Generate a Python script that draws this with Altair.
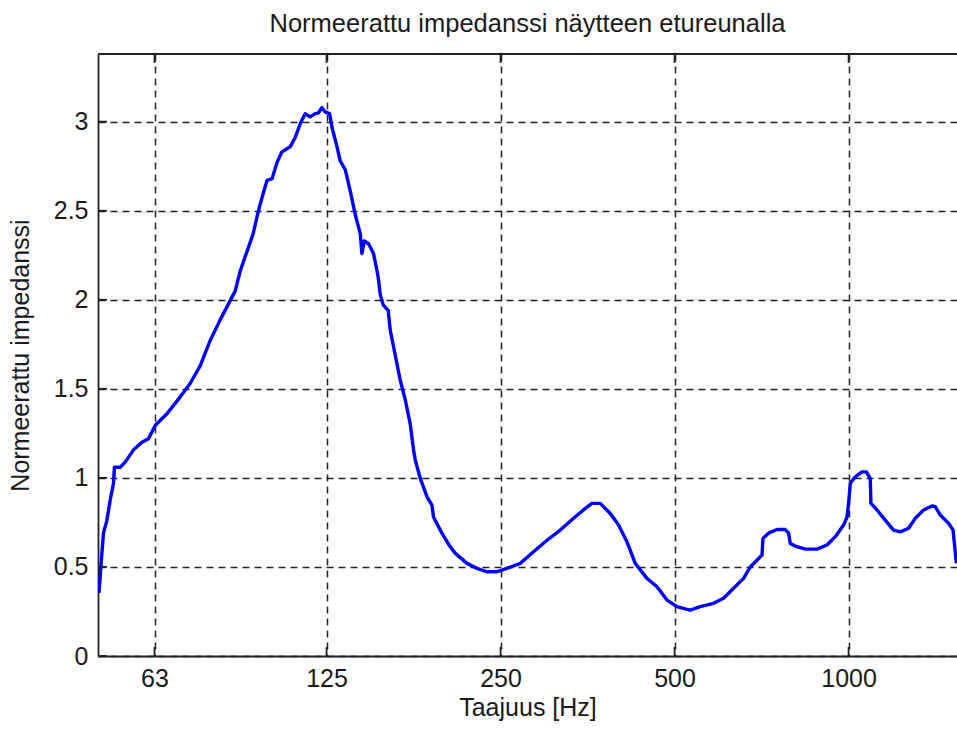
import altair as alt
import pandas as pd

# Normalised impedance measured at the sample's front edge, vs. frequency
freq_hz = [
    50.5, 50.9, 51.4, 52.1, 52.8, 53.5, 53.7, 55.0, 56.1, 57.9, 59.9, 61.5,
    63.2, 66.2, 69.8, 72.6, 75.6, 78.6, 81.9, 86.9, 88.6, 90.8, 93.3, 95.3,
    96.6, 98.6, 100.6, 102.6, 104.6, 108.2, 110.3, 112.6, 114.8, 117.1, 119.5,
    121.1, 122.7, 124.3, 126.5, 127.7, 130.3, 132.0, 134.7, 137.4, 140.1,
    143.0, 143.9, 145.3, 147.8, 150.7, 152.8, 153.8, 154.8, 156.7, 159.8,
    161.1, 164.3, 167.6, 171.0, 174.5, 176.8, 178.0, 181.6, 186.5, 190.2,
    191.4, 197.9, 204.6, 208.8, 218.7, 227.6, 236.8, 246.4, 256.4, 270.4,
    285.1, 300.8, 317.1, 334.4, 350.4, 359.8, 371.9, 387.0, 400.0, 413.6,
    427.5, 447.9, 466.2, 485.1, 504.8, 525.3, 532.2, 553.9, 584.0, 607.7,
    632.4, 658.2, 676.0, 708.3, 711.0, 727.1, 751.9, 777.1, 787.4, 792.7,
    808.7, 841.6, 881.8, 917.6, 948.4, 980.3, 993.6, 1000.0, 1006.8, 1027.0,
    1054.8, 1073.0, 1090.0, 1093.0, 1119.8, 1157.0, 1196.0, 1229.0, 1270.0,
    1304.0, 1348.0, 1394.0, 1413.0, 1441.0, 1489.0, 1516.0, 1524.0, 1536.0,
]
impedance = [
    0.354, 0.51, 0.69, 0.76, 0.875, 0.97, 1.06, 1.06, 1.09, 1.156, 1.20, 1.22,
    1.296, 1.36, 1.455, 1.53, 1.63, 1.77, 1.89, 2.05, 2.16, 2.26, 2.37, 2.50,
    2.57, 2.67, 2.68, 2.77, 2.83, 2.86, 2.91, 2.99, 3.045, 3.027, 3.045,
    3.05, 3.08, 3.055, 3.045, 2.97, 2.86, 2.78, 2.73, 2.61, 2.48,
    2.37, 2.26, 2.33, 2.315, 2.26, 2.166, 2.11, 2.03, 1.97, 1.94,
    1.83, 1.69, 1.55, 1.44, 1.30, 1.156, 1.10, 0.997, 0.894, 0.847,
    0.78, 0.69, 0.613, 0.576, 0.52, 0.492, 0.473, 0.473, 0.492, 0.52,
    0.585, 0.65, 0.707, 0.773, 0.829, 0.857, 0.857, 0.80, 0.735, 0.641,
    0.52, 0.436, 0.389, 0.314, 0.277, 0.262, 0.258, 0.277, 0.296, 0.324,
    0.38, 0.436, 0.50, 0.567, 0.66, 0.69, 0.71, 0.71, 0.69, 0.632,
    0.617, 0.60, 0.60, 0.623, 0.67, 0.735, 0.78, 0.857, 0.97, 1.006,
    1.034, 1.034, 0.997, 0.857, 0.82, 0.763, 0.707, 0.697, 0.717,
    0.773, 0.82, 0.842, 0.838, 0.791, 0.745, 0.707, 0.632, 0.52,
]

x_ticks = [63, 125, 250, 500, 1000]
y_ticks = [0, 0.5, 1, 1.5, 2, 2.5, 3]

W, H = 859, 602
FONT = "Liberation Sans"
INK = "#1a1a1a"
FRAME = "#222222"
TICK_LEN = 9

x_scale = alt.Scale(type="log", domain=[50.3, 1540], nice=False, zero=False)
y_scale = alt.Scale(domain=[0, 3.38], nice=False, zero=True)

curve_df = pd.DataFrame({"f": freq_hz, "z": impedance})
xt_df = pd.DataFrame({"f": x_ticks})
yt_df = pd.DataFrame({"z": y_ticks})

common_axis = dict(
    grid=True, gridColor=FRAME, gridDash=[7, 5], gridWidth=1.5,
    domainColor=FRAME, domainWidth=1.8, ticks=False,
    labelFont=FONT, labelFontSize=25, labelColor=INK, labelPadding=10,
    titleFont=FONT, titleFontSize=25, titleColor=INK, titleFontWeight="normal",
    titleBaseline="alphabetic", titleAlign="center",
)
x_axis = alt.Axis(values=x_ticks, format="d", title="Taajuus [Hz]",
                  titleX=W / 2, titleY=59, **common_axis)
y_axis = alt.Axis(values=y_ticks, format="~g", title="Normeerattu impedanssi",
                  titleX=-70, titleY=H / 2, titleAngle=270, **common_axis)

curve = alt.Chart(curve_df).mark_line(
    color="#0000ff", strokeWidth=3.4, clip=True, strokeJoin="round"
).encode(
    x=alt.X("f:Q", scale=x_scale, axis=x_axis),
    y=alt.Y("z:Q", scale=y_scale, axis=y_axis),
    order=alt.Order("f:Q"),
)

# inward tick marks on the bottom, top and left frame edges
ticks_bottom = alt.Chart(xt_df).mark_rule(color=FRAME, strokeWidth=1.8).encode(
    x=alt.X("f:Q", scale=x_scale, axis=x_axis),
    y=alt.value(H), y2=alt.value(H - TICK_LEN),
)
ticks_top = alt.Chart(xt_df).mark_rule(color=FRAME, strokeWidth=1.8).encode(
    x=alt.X("f:Q", scale=x_scale, axis=x_axis),
    y=alt.value(0), y2=alt.value(TICK_LEN),
)
ticks_left = alt.Chart(yt_df).mark_rule(color=FRAME, strokeWidth=1.8).encode(
    y=alt.Y("z:Q", scale=y_scale, axis=y_axis),
    x=alt.value(0), x2=alt.value(TICK_LEN),
)
top_edge = alt.Chart(xt_df).mark_rule(color=FRAME, strokeWidth=1.8).encode(
    x=alt.value(0), x2=alt.value(W + 2), y=alt.value(0),
)

chart = alt.layer(curve, ticks_bottom, ticks_top, ticks_left, top_edge).properties(
    width=W,
    height=H,
    title=alt.TitleParams(
        "Normeerattu impedanssi näytteen etureunalla",
        font=FONT, fontSize=25.5, fontWeight="normal", color=INK,
        anchor="middle", frame="group", baseline="alphabetic", offset=0, dy=4,
    ),
    padding={"left": 98, "top": 54, "right": 0, "bottom": 73},
    autosize=alt.AutoSizeParams(type="none"),
    background="white",
).configure_view(stroke=None)

chart.save("out.html", embed_options={"renderer": "svg", "actions": False})
